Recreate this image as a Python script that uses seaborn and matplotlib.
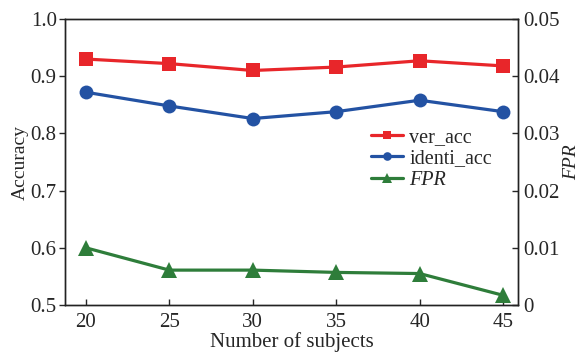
import matplotlib
matplotlib.use("Agg")
import matplotlib.pyplot as plt
import seaborn as sns
import pandas as pd

subjects = [20, 25, 30, 35, 40, 45]
ver_acc = [0.930, 0.922, 0.910, 0.916, 0.927, 0.918]
identi_acc = [0.872, 0.848, 0.826, 0.838, 0.858, 0.838]
fpr = [0.0100, 0.0061, 0.0061, 0.0057, 0.0055, 0.0017]

sns.set_style("ticks")
plt.rcParams["font.family"] = ["Liberation Serif", "DejaVu Serif"]

df = pd.DataFrame({"n": subjects, "ver_acc": ver_acc,
                   "identi_acc": identi_acc, "FPR": fpr})

fig = plt.figure(figsize=(5.82, 3.52), dpi=100)
ax = fig.add_axes([0.1117, 0.1335, 0.7784, 0.8125])
ax2 = ax.twinx()

red, blue, green = "#e8262a", "#2352a3", "#2e7d3a"
lw = 2.3

sns.lineplot(data=df, x="n", y="ver_acc", ax=ax, color=red, marker="s",
             markersize=10, markeredgewidth=0, linewidth=lw, label="ver_acc",
             legend=False)
sns.lineplot(data=df, x="n", y="identi_acc", ax=ax, color=blue, marker="o",
             markersize=10, markeredgewidth=0, linewidth=lw, label="identi_acc",
             legend=False)
sns.lineplot(data=df, x="n", y="FPR", ax=ax2, color=green, marker="^",
             markersize=11, markeredgewidth=0, linewidth=lw, label="FPR",
             legend=False)

ax.set_xlim(18.75, 45.9)
ax.set_ylim(0.5, 1.0)
ax2.set_ylim(0, 0.05)
ax.set_xticks(subjects)
ax.set_yticks([0.5, 0.6, 0.7, 0.8, 0.9, 1.0])
ax.set_yticklabels(["0.5", "0.6", "0.7", "0.8", "0.9", "1.0"])
ax2.set_yticks([0, 0.01, 0.02, 0.03, 0.04, 0.05])
ax2.set_yticklabels(["0", "0.01", "0.02", "0.03", "0.04", "0.05"])

fs = 15
ax.tick_params(axis="y", direction="out", length=4, width=1, labelsize=fs, pad=2)
ax.tick_params(axis="x", direction="in", length=4, width=1, labelsize=fs, pad=6)
ax2.tick_params(axis="y", direction="in", length=4, width=1, labelsize=fs, pad=4)

for a in (ax, ax2):
    for s in a.spines.values():
        s.set_linewidth(1.0)
        s.set_color("#222222")

ax.set_xlabel("Number of subjects", fontsize=15, labelpad=0)
ax.set_ylabel("Accuracy", fontsize=14, labelpad=1)
ax2.set_ylabel("FPR", fontsize=14, style="italic", labelpad=2)

handles = ax.get_lines()[:2] + ax2.get_lines()[:1]
leg = ax2.legend(handles, ["ver_acc", "identi_acc", "FPR"], frameon=False,
                 loc="upper left", bbox_to_anchor=(0.675, 0.62),
                 borderaxespad=0, fontsize=14.5, markerscale=0.62,
                 handlelength=1.6, handletextpad=0.3, labelspacing=0.12,
                 borderpad=0)
leg.get_texts()[2].set_fontstyle("italic")

fig.savefig("out.png", dpi=100)
